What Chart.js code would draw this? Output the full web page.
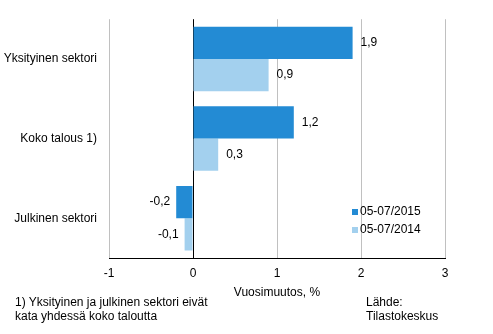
<!DOCTYPE html>
<html>
<head>
<meta charset="utf-8">
<script src="https://cdn.jsdelivr.net/npm/chart.js@4/dist/chart.umd.min.js"></script>
<style>
  html, body { margin: 0; padding: 0; background: #fff; }
  #kehys { position: relative; width: 493px; height: 334px; }
  .teksti { position: absolute; font-family: 'Liberation Sans', Arial, sans-serif; font-size: 12px; line-height: 14px; color: #000; }
</style>
</head>
<body>
<div id="kehys">
  <canvas id="kaavio" width="493" height="334"></canvas>
  <div class="teksti" style="left:15px; top:295px;">1) Yksityinen ja julkinen sektori eivät<br>kata yhdessä koko taloutta</div>
  <div class="teksti" style="left:366px; top:295px;">Lähde:<br>Tilastokeskus</div>
</div>
<script>
const kategoriat = ['Yksityinen sektori', 'Koko talous 1)', 'Julkinen sektori'];
const sarjaNimet = ['05-07/2015', '05-07/2014'];
const arvot2015 = [1.9, 1.2, -0.2];
const arvot2014 = [0.9, 0.3, -0.1];
const xTikit = ['-1', '0', '1', '2', '3'];

const fontti = "'Liberation Sans', Arial, sans-serif";

function muotoile(arvo) {
    return arvo.toFixed(1).replace('.', ',');
}

// arvotekstit palkkien perään
const arvoTekstit = {
    id: 'arvoTekstit',
    afterDatasetsDraw(chart) {
        const ctx = chart.ctx;
        ctx.save();
        ctx.font = '12px ' + fontti;
        ctx.fillStyle = '#000';
        ctx.textBaseline = 'middle';
        chart.data.datasets.forEach((ds, i) => {
            chart.getDatasetMeta(i).data.forEach((palkki, j) => {
                const v = ds.data[j];
                if (v >= 0) {
                    ctx.textAlign = 'left';
                    ctx.fillText(muotoile(v), palkki.x + 8, palkki.y);
                } else {
                    ctx.textAlign = 'right';
                    ctx.fillText(muotoile(v), palkki.x - 6, palkki.y);
                }
            });
        });
        ctx.restore();
    }
};

// selite kuvaajan sisällä
const selite = {
    id: 'selite',
    afterDraw(chart) {
        const ctx = chart.ctx;
        ctx.save();
        ctx.font = '12px ' + fontti;
        ctx.textBaseline = 'middle';
        ctx.textAlign = 'left';
        chart.data.datasets.forEach((ds, i) => {
            const y = 212 + i * 18;
            ctx.fillStyle = ds.backgroundColor;
            ctx.fillRect(352, y - 3, 6, 6);
            ctx.fillStyle = '#000';
            ctx.fillText(ds.label, 360, y);
        });
        ctx.restore();
    }
};

const ctx = document.getElementById('kaavio').getContext('2d');
new Chart(ctx, {
    type: 'bar',
    data: {
        labels: kategoriat,
        datasets: [
            {
                label: sarjaNimet[0],
                data: arvot2015,
                backgroundColor: '#238bd4',
                categoryPercentage: 0.81,
                barPercentage: 1
            },
            {
                label: sarjaNimet[1],
                data: arvot2014,
                backgroundColor: '#a3d0ee',
                categoryPercentage: 0.81,
                barPercentage: 1
            }
        ]
    },
    options: {
        indexAxis: 'y',
        responsive: false,
        animation: false,
        layout: {
            padding: { top: 17, right: 48, bottom: 30, left: 0 }
        },
        plugins: {
            legend: { display: false },
            tooltip: { enabled: false }
        },
        scales: {
            x: {
                min: -1,
                max: 3,
                ticks: {
                    stepSize: 1,
                    padding: 8,
                    color: '#000',
                    font: { family: fontti, size: 12 },
                    callback: function(value) {
                        const i = Math.round(value) + 1;
                        return xTikit[i];
                    }
                },
                grid: {
                    drawTicks: false,
                    color: function(c) {
                        return c.tick && c.tick.value === 0 ? '#000' : '#c0c0c0';
                    }
                },
                border: { display: true, color: '#000', width: 1 },
                title: {
                    display: true,
                    text: 'Vuosimuutos, %',
                    color: '#000',
                    font: { family: fontti, size: 12 },
                    padding: { top: 4, bottom: 4 }
                },
                afterFit: function(scale) {
                    scale.height = 46;
                }
            },
            y: {
                grid: { display: false, drawTicks: false },
                border: { display: false },
                ticks: {
                    padding: 12,
                    color: '#000',
                    font: { family: fontti, size: 12 }
                },
                afterFit: function(scale) {
                    scale.width = 109;
                }
            }
        }
    },
    plugins: [arvoTekstit, selite]
});
</script>
</body>
</html>
